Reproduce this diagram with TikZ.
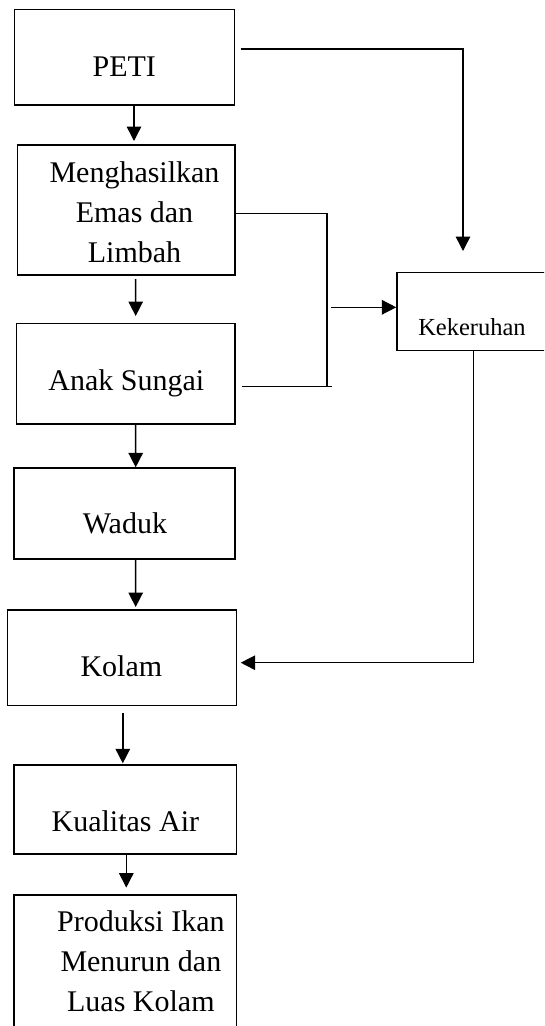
\documentclass[tikz,border=0pt]{standalone}
\usepackage{fontspec}
\setmainfont{Liberation Serif}
\usetikzlibrary{arrows.meta}

\begin{document}
\begin{tikzpicture}[
    x=1pt, y=1pt,
    box/.style={draw, line width=1.4pt, inner sep=0pt},
    txt/.style={font=\fontsize{30}{40}\selectfont, align=center},
    small/.style={font=\fontsize{24.5}{30}\selectfont},
    link/.style={line width=1.5pt},
    flow/.style={-{Triangle[length=14.5pt, width=14.5pt]}, line width=1.5pt}
]
\useasboundingbox (0,0) rectangle (544,-1026);
\clip (0,0) rectangle (544,-1026);
\node[box, minimum width=220pt, minimum height=95.7pt,
      label={[txt, yshift=-9.85pt]center:PETI}] (peti) at (124.3,-57.15) {};
\node[box, minimum width=217.7pt, minimum height=130pt,
      label={[txt, xshift=8.35pt, yshift=-2.4pt]center:Menghasilkan\\Emas dan\\Limbah}] (hasil) at (126.15,-210) {};
\node[box, minimum width=218.3pt, minimum height=100.7pt,
      label={[txt, xshift=0.45pt, yshift=-9.35pt]center:Anak Sungai}] (anak) at (125.85,-373.65) {};
\node[box, minimum width=221.1pt, minimum height=91pt,
      label={[txt, xshift=0.45pt, yshift=-10.25pt]center:Waduk}] (waduk) at (124.45,-513.5) {};
\node[box, minimum width=229pt, minimum height=95.7pt,
      label={[txt, xshift=-0.7pt, yshift=-8.6pt]center:Kolam}] (kolam) at (122.1,-657.85) {};
\node[box, minimum width=222.7pt, minimum height=89pt,
      label={[txt, xshift=0.15pt, yshift=-11.95pt]center:Kualitas Air}] (kualitas) at (125.25,-809.5) {};
\node[box, minimum width=222.7pt, minimum height=165pt,
      label={[txt, xshift=15.65pt, yshift=16.1pt]center:Produksi Ikan\\Menurun dan\\Luas Kolam}] (produksi) at (125.25,-977.5) {};
\node[box, minimum width=203pt, minimum height=78pt,
      label={[small, xshift=-26.5pt, yshift=-15.9pt]center:Kekeruhan}] (keruh) at (498.5,-311.7) {};
\coordinate (fork) at (327,-386.7);

\draw[flow] ([xshift=9.7pt]peti.south) -- ([xshift=7.85pt, yshift=3.3pt]hasil.north);
\draw[flow] ([xshift=9.55pt, yshift=-3.3pt]hasil.south) -- ([xshift=9.85pt, yshift=6.6pt]anak.north);
\draw[flow] ([xshift=9.85pt]anak.south) -- ([xshift=11.25pt]waduk.north);
\draw[flow] ([xshift=11.25pt]waduk.south) -- ([xshift=13.6pt, yshift=2.3pt]kolam.north);
\draw[flow] ([xshift=0.7pt, yshift=-6.6pt]kolam.south) -- ([xshift=-2.45pt, yshift=1pt]kualitas.north);
\draw[flow] ([xshift=1.05pt]kualitas.south) -- ([xshift=1.05pt, yshift=6.7pt]produksi.north);
\draw[flow] ([xshift=5.7pt, yshift=8.15pt]peti.east) -| ([xshift=-35.5pt, yshift=21pt]keruh.north);
\draw[link] ([yshift=-3.3pt]hasil.east) -| (fork);
\draw[link] ([xshift=6pt, yshift=-13.05pt]anak.east) -- ([xshift=5pt]fork);
\draw[flow] (fork |- keruh.west) ++(4,4.4) -- ([yshift=4.4pt]keruh.west);
\draw[flow] ([xshift=-24.9pt]keruh.south) |- ([xshift=3.4pt, yshift=-4.85pt]kolam.east);
\end{tikzpicture}
\end{document}
